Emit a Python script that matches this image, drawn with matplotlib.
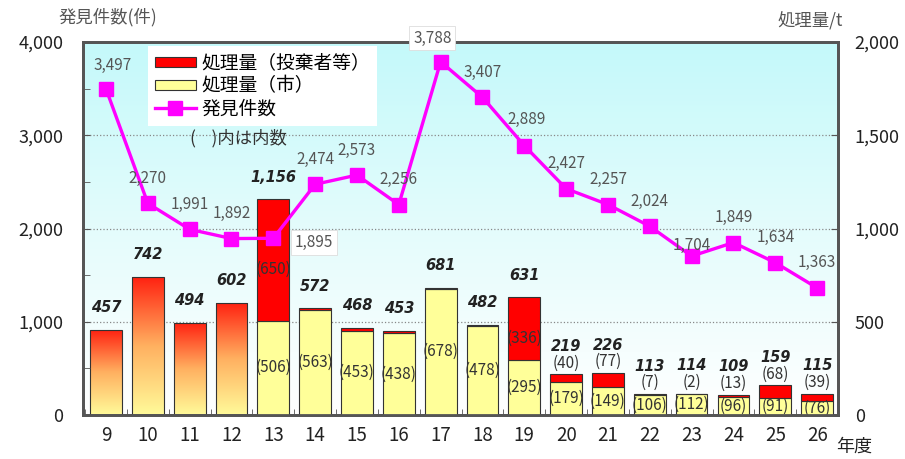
import matplotlib
matplotlib.use("Agg")
from matplotlib import pyplot as plt
from matplotlib.colors import LinearSegmentedColormap
from matplotlib.patches import Patch
from matplotlib.lines import Line2D
from matplotlib.ticker import MultipleLocator, StrMethodFormatter
import numpy as np

plt.rcParams['font.family'] = ['Noto Sans CJK JP', 'DejaVu Sans']

# data
years = ['9', '10', '11', '12', '13', '14', '15', '16', '17', '18',
         '19', '20', '21', '22', '23', '24', '25', '26']
found = [3497, 2270, 1991, 1892, 1895, 2474, 2573, 2256, 3788, 3407,
         2889, 2427, 2257, 2024, 1704, 1849, 1634, 1363]
total = [457, 742, 494, 602, 1156, 572, 468, 453, 681, 482,
         631, 219, 226, 113, 114, 109, 159, 115]
# breakdown only known from year 13 on
city = [None, None, None, None, 506, 563, 453, 438, 678, 478,
        295, 179, 149, 106, 112, 96, 91, 76]
offender = [None, None, None, None, 650, 9, 15, 15, 3, 4,
            336, 40, 77, 7, 2, 13, 68, 39]

RED = '#ff0000'
YELLOW = '#ffff99'
MAGENTA = '#ff00ff'
EDGE = '#333333'

fig = plt.figure(figsize=(9.05, 4.59), dpi=100)
ax = fig.add_axes([83/905, 1-415/459, (838-83)/905, (415-42)/459])
ax2 = ax.twinx()
ax.set_zorder(2)
ax.patch.set_visible(False)
ax2.set_zorder(1)

x = np.arange(len(years))
w = 0.76

# background gradient
bg = LinearSegmentedColormap.from_list('bg', ['#ffffff', '#e4fcfc', '#c4f9fa'])
ax2.imshow(np.linspace(0, 1, 256).reshape(-1, 1), cmap=bg, origin='lower',
           extent=[0, 1, 0, 1], transform=ax2.transAxes, aspect='auto', zorder=-2)

grad = LinearSegmentedColormap.from_list('gr', ['#fffb9a', '#ffb060', '#ff2010'])
for i in range(len(years)):
    if city[i] is None:
        b = ax2.bar(x[i], total[i], width=w, facecolor='none', edgecolor=EDGE, lw=0.8, zorder=3)
        im = ax2.imshow(np.linspace(0, 1, 256).reshape(-1, 1), cmap=grad, origin='lower',
                        extent=[x[i]-w/2, x[i]+w/2, 0, total[i]], aspect='auto', zorder=2)
        im.set_clip_path(b[0])
    else:
        ax2.bar(x[i], city[i], width=w, color=YELLOW, edgecolor=EDGE, lw=0.8, zorder=3)
        ax2.bar(x[i], offender[i], bottom=city[i], width=w, color=RED, edgecolor=EDGE, lw=0.8, zorder=3)
        ax2.text(x[i], city[i]/2, '(%d)' % city[i], ha='center', va='center',
                 fontsize=11, color='#333333', zorder=4)
        if offender[i] >= 100:
            ax2.text(x[i], city[i] + offender[i]/2 - 50, '(%d)' % offender[i], ha='center',
                     va='center', fontsize=11, color='#333333', zorder=4)
        elif i >= 11:
            ax2.annotate('(%d)' % offender[i], (x[i], total[i]), xytext=(0, 8),
                         textcoords='offset points', ha='center', va='center',
                         fontsize=11, color='#333333', zorder=4)
    top_off = 20 if (city[i] is not None and i >= 11) else 16
    ax2.annotate('{:,}'.format(total[i]), (x[i], total[i]), xytext=(0, top_off),
                 textcoords='offset points', ha='center', va='center', fontsize=10.5,
                 fontweight='bold', fontstyle='italic', family='DejaVu Sans',
                 color='#222222', zorder=4)

ax2.set_xlim(-0.55, 17.5)
ax2.set_ylim(0, 2000)
ax2.yaxis.set_major_locator(MultipleLocator(500))
ax2.yaxis.set_major_formatter(StrMethodFormatter('{x:,.0f}'))
ax2.grid(axis='y', color='#888888', linestyle=':', lw=0.9, zorder=-1)
ax2.set_axisbelow(True)

# line
ax.plot(x, found, color=MAGENTA, lw=2.4, marker='s', ms=10, mec=MAGENTA, zorder=5)
special = {0: (5, 17), 4: (29, -3), 8: (-6, 17), 14: (0, 8), 10: (2, 19)}
for i, v in enumerate(found):
    dx, dy = special.get(i, (0, 18))
    box = None
    if i in (4, 8):
        box = dict(boxstyle='square,pad=0.25', facecolor='white', edgecolor='#dddddd', lw=0.6)
    ax.annotate('{:,}'.format(v), (x[i], v), xytext=(dx, dy), textcoords='offset points',
                ha='center', va='center', fontsize=11, color='#555555', bbox=box,
                zorder=6, annotation_clip=False)

ax.set_xlim(-0.55, 17.5)
ax.set_ylim(0, 4000)
ax.set_xticks(x)
ax.set_xticklabels(years)
ax.xaxis.set_minor_locator(MultipleLocator(1, offset=0.5))
ax.yaxis.set_major_locator(MultipleLocator(1000))
ax.yaxis.set_minor_locator(MultipleLocator(500))
ax.yaxis.set_major_formatter(StrMethodFormatter('{x:,.0f}'))

ax.tick_params(axis='x', which='major', length=0, pad=7, labelsize=13.5, labelcolor='#222222')
ax.tick_params(axis='x', which='minor', direction='in', length=4, color='#555555')
ax.tick_params(axis='y', which='both', direction='in', length=5, color='#555555',
               pad=14, labelsize=13, labelcolor='#222222')
ax2.tick_params(axis='y', direction='in', length=5, color='#555555', pad=12,
                labelsize=13, labelcolor='#222222')

for a in (ax, ax2):
    for s in a.spines.values():
        s.set_color('#555555')
        s.set_linewidth(2)

# legend
handles = [Patch(facecolor=RED, edgecolor=EDGE, lw=0.8),
           Patch(facecolor=YELLOW, edgecolor=EDGE, lw=0.8),
           Line2D([], [], color=MAGENTA, lw=2.4, marker='s', ms=10)]
leg = ax.legend(handles, ['処理量（投棄者等）', '処理量（市）', '発見件数'],
                loc='upper left', bbox_to_anchor=(148/905, 1-46/459),
                bbox_transform=fig.transFigure, fontsize=13.5, frameon=True,
                fancybox=False, edgecolor='white', framealpha=1,
                handlelength=2.2, handleheight=0.45, labelspacing=0.1,
                borderpad=0.35, handletextpad=0.3, borderaxespad=0)
leg.get_frame().set_linewidth(0)

fig.text(190/905, 1-138/459, '(    )内は内数', fontsize=12.5, color='#333333', va='center')
fig.text(58/905, 1-17/459, '発見件数(件)', fontsize=12.5, color='#555555', va='center')
fig.text(778/905, 1-21/459, '処理量/t', fontsize=12.5, color='#555555', va='center')
fig.text(836/905, 1-447/459, '年度', fontsize=13, color='#222222', va='center')

fig.savefig('out.png', dpi=100)
